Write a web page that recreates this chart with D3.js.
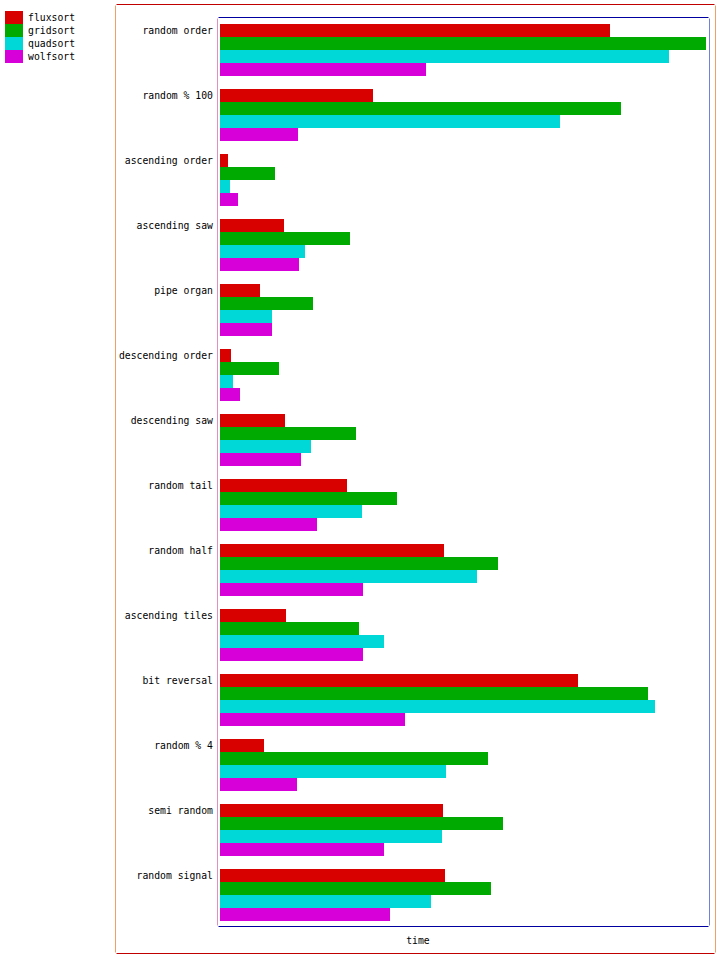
<!DOCTYPE html>
<html><head><meta charset="utf-8">
<script src="https://cdnjs.cloudflare.com/ajax/libs/d3/7.8.5/d3.min.js"></script>
<style>body{margin:0;background:#fff}svg{display:block}</style>
</head><body><svg id="c" width="717" height="957"></svg>
<script>
const categories = ["random order","random % 100","ascending order","ascending saw","pipe organ","descending order","descending saw","random tail","random half","ascending tiles","bit reversal","random % 4","semi random","random signal"];
const seriesNames = ["fluxsort","gridsort","quadsort","wolfsort"];
const seriesColors = ["#d90000","#00aa00","#00d8d8","#d800d8"];
const fluxsort = [390,153,8,64,40,11,65,127,224,66,358,44,223,225];
const gridsort = [486,401,55,130,93,59,136,177,278,139,428,268,283,271];
const quadsort = [449,340,10,85,52,13,91,142,257,164,435,226,222,211];
const wolfsort = [206,78,18,79,52,20,81,97,143,143,185,77,164,170];
const xAxisTitle = "time";

const series = [fluxsort, gridsort, quadsort, wolfsort];
const svg = d3.select("#c");
const font = "'DejaVu Sans Mono', monospace";
const CW = 5.88;

function txt(sel, s){
  return sel.attr("font-family",font).attr("font-size",11).attr("fill","#000")
    .attr("textLength", s.length*CW).attr("lengthAdjust","spacingAndGlyphs").text(s);
}

const ox0 = 115.5, oy0 = 4.5, ox1 = 715.5, oy1 = 953.5;
const ix0 = 217.5, iy0 = 17.5, ix1 = 709.5, iy1 = 926.5;

function frame(x0,y0,x1,y1,hc,vc,vc2){
  svg.append("line").attr("x1",x0+1).attr("x2",x1-1).attr("y1",y0).attr("y2",y0).attr("stroke",hc);
  svg.append("line").attr("x1",x0+1).attr("x2",x1-1).attr("y1",y1).attr("y2",y1).attr("stroke",hc);
  svg.append("line").attr("x1",x0).attr("x2",x0).attr("y1",y0+1).attr("y2",y1-1).attr("stroke",vc);
  svg.append("line").attr("x1",x1).attr("x2",x1).attr("y1",y0+1).attr("y2",y1-1).attr("stroke",vc2);
}
frame(ox0,oy0,ox1,oy1,"#c00000","#f0a060","#f0a060");
frame(ix0,iy0,ix1,iy1,"#0000a0","#e090c0","#7080e0");

const x = d3.scaleLinear().domain([0, 489]).range([220, 709]);

const g = svg.append("g");
categories.forEach((cat, i) => {
  const band = 17 + i*65 + 7;
  const gy = d3.scaleBand().domain(seriesNames).range([band, band+52]);
  seriesNames.forEach((s, j) => {
    g.append("rect").attr("x", x(0)).attr("y", gy(s))
      .attr("width", x(series[j][i]) - x(0)).attr("height", gy.bandwidth())
      .attr("fill", seriesColors[j]);
  });
  txt(svg.append("text").attr("x", 213 - cat.length*CW).attr("y", band + 6.5).attr("dy","0.35em"), cat);
});

seriesNames.forEach((s,j)=>{
  svg.append("rect").attr("x",5).attr("y",11+j*13).attr("width",18).attr("height",13).attr("fill",seriesColors[j]);
  txt(svg.append("text").attr("x",28).attr("y",11+j*13+6.5).attr("dy","0.35em"), s);
});

txt(svg.append("text").attr("x",418 - xAxisTitle.length*CW/2).attr("y",940).attr("dy","0.35em"), xAxisTitle);
</script></body></html>
